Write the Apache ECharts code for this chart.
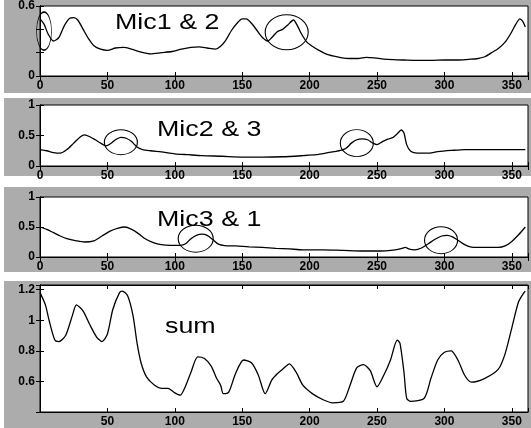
<!DOCTYPE html>
<html>
<head>
<meta charset="utf-8">
<script src="https://cdn.jsdelivr.net/npm/echarts@6/dist/echarts.min.js"></script>
<style>
  html, body { margin: 0; padding: 0; background: #fff; }
  #wrap { position: relative; width: 531px; height: 428px; overflow: hidden; }
  .shade { position: absolute; left: 4px; right: 0; background: #acacac; }
  #chart { position: absolute; left: 0; top: 0; width: 531px; height: 428px; }
</style>
</head>
<body>
<div id="wrap">
  <div class="shade" style="top:0;height:93px"></div>
  <div class="shade" style="top:98px;height:78px"></div>
  <div class="shade" style="top:187px;height:85px"></div>
  <div class="shade" style="top:281px;height:147px"></div>
  <div id="chart"></div>
</div>
<script>
// angle (deg) and correlation values
const mic12X = [0,3,6,10,14,18,22,25,28,32,36,40,45,50,56,62,68,75,82,90,98,105,112,118,124,130,134,138,142,146,150,153,157,161,165,169,172,176,180,184,188,191,194,198,202,207,212,218,224,230,236,242,248,255,262,270,280,290,300,310,318,324,330,335,340,345,349,353,356,358,360]
const mic12Y = [0.49,0.445,0.36,0.30,0.33,0.43,0.495,0.50,0.48,0.40,0.32,0.26,0.23,0.22,0.24,0.245,0.23,0.205,0.19,0.20,0.21,0.23,0.245,0.25,0.24,0.23,0.255,0.31,0.39,0.45,0.49,0.49,0.45,0.39,0.33,0.30,0.33,0.38,0.40,0.44,0.48,0.43,0.36,0.29,0.255,0.22,0.19,0.17,0.155,0.15,0.15,0.16,0.155,0.145,0.14,0.137,0.134,0.134,0.137,0.137,0.143,0.148,0.165,0.20,0.235,0.29,0.36,0.445,0.49,0.47,0.42]

const mic23X = [0,5,10,15,20,25,30,33,37,41,45,49,52,56,60,64,68,72,76,82,90,100,110,120,135,150,165,180,195,205,212,218,223,227,231,235,239,243,247,250,254,258,262,265,268,270,272,275,280,287,295,305,315,330,345,360]
const mic23Y = [0.27,0.25,0.22,0.21,0.27,0.375,0.48,0.51,0.48,0.43,0.375,0.33,0.36,0.43,0.47,0.455,0.40,0.31,0.27,0.25,0.23,0.20,0.185,0.17,0.16,0.147,0.147,0.152,0.17,0.185,0.21,0.235,0.255,0.29,0.375,0.43,0.445,0.43,0.375,0.35,0.40,0.44,0.47,0.53,0.59,0.54,0.35,0.24,0.21,0.21,0.235,0.255,0.27,0.27,0.27,0.27]

const mic31X = [0,5,10,15,20,27,33,40,46,52,58,63,68,73,78,84,90,97,104,108,112,116,120,124,128,132,137,145,155,165,175,185,195,210,225,240,252,262,268,271,274,278,283,288,293,298,302,306,310,315,320,330,340,345,350,355,360]
const mic31Y = [0.50,0.46,0.405,0.35,0.305,0.27,0.25,0.27,0.35,0.43,0.48,0.50,0.46,0.39,0.305,0.24,0.205,0.195,0.195,0.22,0.305,0.36,0.38,0.36,0.295,0.22,0.19,0.185,0.17,0.16,0.145,0.135,0.12,0.12,0.11,0.10,0.10,0.115,0.14,0.16,0.13,0.12,0.15,0.22,0.295,0.35,0.36,0.335,0.28,0.205,0.165,0.16,0.16,0.185,0.26,0.37,0.50]

const sumX = [0,4,7,11,14,19,24,27,32,37,42,46,50,54,59,61,65,69,72,75,79,85,90,95,100,104,107,112,117,122,127,131,134,136,140,145,151,157,162,167,172,176,180,185,190,195,202,210,217,225,230,235,240,245,250,255,260,265,267,270,272,275,285,290,295,300,305,310,315,320,330,340,345,350,355,359,360]
const sumY = [1.18,1.10,0.99,0.87,0.86,0.90,1.03,1.10,1.06,0.97,0.89,0.86,0.91,1.07,1.18,1.19,1.16,1.03,0.85,0.72,0.63,0.575,0.555,0.555,0.525,0.51,0.55,0.66,0.76,0.75,0.70,0.62,0.575,0.52,0.53,0.65,0.74,0.72,0.64,0.52,0.61,0.65,0.68,0.715,0.66,0.575,0.52,0.48,0.46,0.47,0.575,0.69,0.71,0.67,0.565,0.64,0.74,0.87,0.85,0.66,0.49,0.47,0.49,0.62,0.74,0.79,0.80,0.74,0.64,0.595,0.62,0.68,0.78,0.95,1.12,1.18,1.19]

// circled regions: [angle, value, width px, height px]
const mic12Rings = [[3, 0.385, 15, 38], [183, 0.375, 43, 35]]
const mic23Rings = [[60, 0.39, 33, 25], [235, 0.375, 33, 27]]
const mic31Rings = [[115.5, 0.305, 35, 27], [297.5, 0.28, 33, 27]]

const panelNames = ['Mic1 & 2', 'Mic2 & 3', 'Mic3 & 1', 'sum']

const chart = echarts.init(document.getElementById('chart'))

const pairs = (xs, ys) => xs.map((x, i) => [x, ys[i]])

const panels = [
  { top: 5, height: 71, min: 0, max: 0.6, step: 0.2, labels: ['0', '0.6'], xs: mic12X, ys: mic12Y, rings: mic12Rings, zero: true },
  { top: 105, height: 61, min: 0, max: 1, step: 0.5, labels: ['0', '0.5', '1'], xs: mic23X, ys: mic23Y, rings: mic23Rings, zero: true },
  { top: 197, height: 60, min: 0, max: 1, step: 0.5, labels: ['0', '0.5', '1'], xs: mic31X, ys: mic31Y, rings: mic31Rings, zero: true },
  { top: 285, height: 133, min: 0.4, max: 1.23, step: 0.2, labels: ['0.6', '0.8', '1', '1.2'], xs: sumX, ys: sumY, rings: [], zero: false }
]

const tickFont = { color: '#000', fontSize: 12, fontWeight: 'bold', fontFamily: 'Liberation Sans' }
const frame = { show: true, lineStyle: { color: '#000', width: 1 } }
const tick = { show: true, inside: true, length: 4, lineStyle: { color: '#000' } }

const grid = []
const xAxis = []
const yAxis = []
const series = []

panels.forEach((p, i) => {
  grid.push({ left: 40, width: 488, top: p.top, height: p.height, show: true, borderColor: '#000', borderWidth: 1, backgroundColor: '#fff' })

  const xBase = { type: 'value', gridIndex: i, min: 0, max: 362, interval: 50, splitLine: { show: false }, axisLine: frame, axisTick: tick }
  xAxis.push(Object.assign({}, xBase, {
    position: 'bottom',
    axisLabel: Object.assign({}, tickFont, {
      margin: 4,
      formatter: v => (v % 50 === 0 && v <= 350 && (p.zero || v > 0)) ? String(v) : ''
    })
  }))
  xAxis.push(Object.assign({}, xBase, { position: 'top', axisLabel: { show: false } }))

  const yBase = { type: 'value', gridIndex: i, min: p.min, max: p.max, interval: p.step, splitLine: { show: false }, axisLine: frame, axisTick: tick }
  yAxis.push(Object.assign({}, yBase, {
    position: 'left',
    axisLabel: Object.assign({}, tickFont, {
      margin: 5,
      formatter: v => {
        const s = String(Math.round(v * 100) / 100)
        return p.labels.includes(s) ? s : ''
      }
    })
  }))
  yAxis.push(Object.assign({}, yBase, { position: 'right', axisLabel: { show: false } }))

  series.push({
    name: panelNames[i],
    type: 'line',
    xAxisIndex: i * 2,
    yAxisIndex: i * 2,
    data: pairs(p.xs, p.ys),
    showSymbol: false,
    smooth: 0.25,
    lineStyle: { color: '#000', width: 1.3 },
    markPoint: {
      silent: true,
      symbol: 'circle',
      itemStyle: { color: 'rgba(0,0,0,0)', borderColor: '#000', borderWidth: 1 },
      label: { show: false },
      data: p.rings.map(r => ({ coord: [r[0], r[1]], symbolSize: [r[2], r[3]] }))
    }
  })
})

const captionPos = [[115, 23], [157, 130], [157, 220], [165, 327]]

const option = {
  animation: false,
  grid,
  xAxis,
  yAxis,
  series,
  graphic: panelNames.map((t, i) => ({
    type: 'text',
    x: captionPos[i][0],
    y: captionPos[i][1],
    scaleX: 1.22,
    z: 100,
    style: { text: t, fill: '#000', font: '22px "Liberation Sans"', align: 'left', verticalAlign: 'middle' }
  }))
}

chart.setOption(option)
</script>
</body>
</html>
